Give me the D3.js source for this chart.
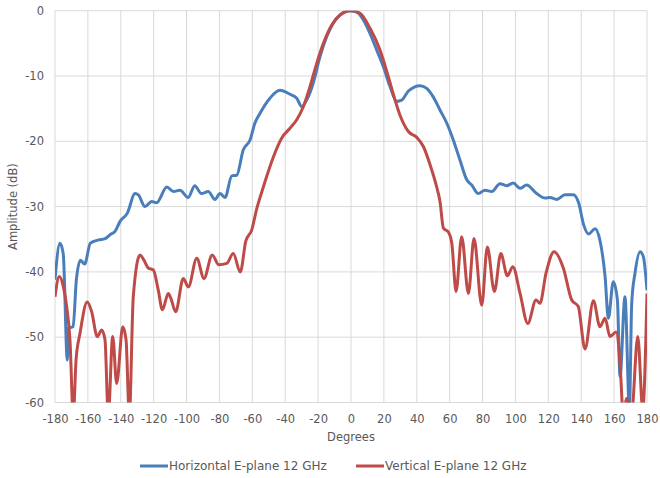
<!DOCTYPE html>
<html>
<head>
<meta charset="utf-8">
<script src="https://cdn.jsdelivr.net/npm/d3@7"></script>
<style>
  body { margin: 0; background: #fff; }
  text { font-family: "DejaVu Sans", sans-serif; fill: #595959; }
</style>
</head>
<body>
<svg width="660" height="478"></svg>
<script>
// series: Horizontal E-plane 12 GHz
var hDeg = [-180, -177, -175, -172.5, -172, -169, -167, -164.5, -162, -158.5, -153.5, -149.5, -146.5, -143.5,
  -140.5, -136, -131.3, -129.3, -125.3, -121.2, -118.2, -112, -108, -104, -99, -95, -91, -86.8, -82.7, -79.7,
  -76.6, -72.5, -69.5, -65.5, -61.4, -58.4, -55.3, -49.3, -43.2, -37.1, -33, -30, -27, -23, -18.8, -14.8,
  -10.8, -6.7, -1, 3.5, 7.5, 11.6, 15.6, 19.7, 23.7, 27.8, 30.8, 34.9, 38.5, 41.9, 46, 50, 54.1, 58.2, 62.2,
  66.3, 70.4, 73.4, 77.4, 81.5, 85.6, 90.6, 94.7, 98.7, 102.8, 106.8, 112.9, 118, 121, 125.1, 130.1, 135.2,
  138.5, 141.5, 144.5, 148.4, 151.4, 154.5, 156.5, 159.5, 162, 163.6, 166.6, 169.3, 170.7, 172.7, 175.8, 177.8, 180];
var hAmp = [-41.2, -35.6, -37.2, -53.5, -48.6, -48.4, -41.2, -38.2, -38.8, -35.6, -35.1, -34.9, -34.3, -33.8,
  -32.3, -31.0, -28.0, -28.2, -30.0, -29.2, -29.4, -27.0, -27.7, -27.5, -28.6, -26.8, -28.0, -27.7, -28.9, -28.0,
  -28.6, -25.3, -25.2, -21.3, -19.8, -17.2, -15.7, -13.4, -12.2, -12.8, -13.4, -14.7, -13.7, -11.1, -7.0, -4.0,
  -1.9, -0.66, 0, -0.2, -1.4, -3.5, -6.0, -8.6, -11.6, -13.9, -13.7, -12.3, -11.7, -11.5, -11.9, -13.2, -15.2, -17.2, -19.8,
  -22.9, -25.9, -26.7, -28.0, -27.5, -27.7, -26.5, -26.8, -26.4, -27.2, -26.7, -28.0, -28.7, -28.6, -28.9, -28.2, -28.2,
  -29.5, -32.8, -34.2, -33.4, -35.2, -40.7, -47.1, -41.5, -44.3, -56.0, -43.8, -61, -44.8, -40.2, -36.9, -37.7, -42.8];

// series: Vertical E-plane 12 GHz
var vDeg = [-180, -177.4, -174.9, -172.9, -170.9, -168.9, -167.2, -164.8, -160.4, -157.7, -154.3, -151.6, -149.6,
  -147.6, -144.9, -142.5, -138.8, -136.8, -134.8, -132.4, -128.3, -125.9, -123.3, -120.2, -117.2, -114.7, -111.1,
  -109.6, -106.6, -102, -98.9, -93.8, -89.4, -84.4, -80.4, -75.6, -71.6, -67.3, -64, -60.4, -57.3, -53.3, -51.3,
  -47.2, -42.1, -37.1, -33, -29, -24.9, -20.9, -16.8, -11.7, -6.7, 0, 5.5, 11.6, 17.6, 22.7, 26.8, 29.8, 34.9,
  40, 44, 48.1, 52.1, 54.1, 56.2, 59.2, 61.3, 63.9, 67.3, 71.4, 74.8, 79.5, 82.9, 87.2, 91.1, 95.1, 98.4, 102.8,
  107.5, 112.5, 114.9, 118.6, 123.5, 129.1, 134.2, 138.2, 142.3, 147.4, 151.4, 154.5, 157.5, 161.2, 163.6, 165.6,
  167.5, 169.3, 170.5, 174.4, 177.4, 180];
var vAmp = [-43.8, -40.7, -42.3, -45.3, -50.4, -62, -53.5, -49.4, -44.6, -46.1, -49.9, -48.9, -50.4,
  -62, -49.9, -57.1, -48.4, -50.4, -62, -43.8, -37.4, -38.2, -39.4, -39.7, -42.8, -45.8, -43.3,
  -44.0, -46.1, -41.0, -42.3, -37.9, -41.0, -37.4, -38.9, -38.7, -37.2, -40.0, -35.3, -33.6, -30.3, -27.0, -25.4,
  -22.4, -19.5, -18.0, -16.7, -14.7, -11.6, -8.1, -5.0, -2.2, -0.66, 0, -0.4, -2.7, -6.0, -10.1, -13.7, -16.0, -18.5,
  -19.4, -20.8, -23.6, -27.0, -29.2, -33.3, -33.9, -35.6, -43.0, -34.6, -43.3, -34.9, -45.1, -36.2, -43.0, -37.2, -40.6, -39.2, -43.3,
  -47.9, -44.3, -44.8, -40.2, -36.9, -39.4, -44.3, -45.3, -51.8, -44.4, -48.4, -47.1, -49.9, -49.2, -54, -62,
  -59.4, -60.5, -62, -49.9, -61, -43.3];

var xTicks = [-180, -160, -140, -120, -100, -80, -60, -40, -20, 0, 20, 40, 60, 80, 100, 120, 140, 160, 180];
var yTicks = [0, -10, -20, -30, -40, -50, -60];
var seriesNames = ["Horizontal E-plane 12 GHz", "Vertical E-plane 12 GHz"];
var seriesColors = ["#4a7ebb", "#be4b48"];

var svg = d3.select("svg"),
    margin = {top: 10.7, right: 13, bottom: 75.5, left: 55},
    width = 660 - margin.left - margin.right,
    height = 478 - margin.top - margin.bottom;

var g = svg.append("g").attr("transform", "translate(" + margin.left + "," + margin.top + ")");

var x = d3.scaleLinear().domain([-180, 180]).range([0, width]);
var y = d3.scaleLinear().domain([-60, 0]).range([height, 0]);

// plain hyphen like the original, not the unicode minus
var fmt = function (d) { return String(d); };

// grid
g.append("g")
    .selectAll("line.v")
    .data(xTicks)
    .enter().append("line")
    .attr("x1", function (d) { return x(d); })
    .attr("x2", function (d) { return x(d); })
    .attr("y1", 0).attr("y2", height)
    .attr("stroke", "#d9d9d9");
g.append("g")
    .selectAll("line.h")
    .data(yTicks)
    .enter().append("line")
    .attr("x1", 0).attr("x2", width)
    .attr("y1", function (d) { return y(d); })
    .attr("y2", function (d) { return y(d); })
    .attr("stroke", "#d9d9d9");

// axes (labels only)
var xAxis = g.append("g")
    .attr("transform", "translate(0," + height + ")")
    .call(d3.axisBottom(x).tickValues(xTicks).tickFormat(fmt).tickSize(0).tickPadding(12));
var yAxis = g.append("g")
    .call(d3.axisLeft(y).tickValues(yTicks).tickFormat(fmt).tickSize(0).tickPadding(11));
[xAxis, yAxis].forEach(function (a) {
    a.select(".domain").remove();
    a.selectAll("text").style("font-size", "11.5px").style("font-family", "DejaVu Sans").attr("fill", "#595959");
});

g.append("clipPath").attr("id", "clip")
    .append("rect").attr("width", width).attr("height", height);

var line = d3.line()
    .x(function (d) { return x(d[0]); })
    .y(function (d) { return y(d[1]); })
    .curve(d3.curveMonotoneX);

var series = [d3.zip(hDeg, hAmp), d3.zip(vDeg, vAmp)];
g.append("g").attr("clip-path", "url(#clip)")
    .selectAll("path")
    .data(series)
    .enter().append("path")
    .attr("fill", "none")
    .attr("stroke", function (d, i) { return seriesColors[i]; })
    .attr("stroke-width", 3)
    .attr("stroke-linejoin", "round")
    .attr("d", line);

// axis titles
svg.append("text")
    .attr("x", margin.left + width / 2).attr("y", 441)
    .attr("text-anchor", "middle")
    .style("font-size", "11.5px")
    .text("Degrees");
svg.append("text")
    .attr("transform", "translate(17," + (margin.top + height / 2) + ") rotate(-90)")
    .attr("text-anchor", "middle")
    .style("font-size", "11.5px")
    .text("Amplitude (dB)");

// legend
var legendX = [140, 356];
var lg = svg.append("g").selectAll("g")
    .data(seriesNames)
    .enter().append("g")
    .attr("transform", function (d, i) { return "translate(" + legendX[i] + ",466)"; });
lg.append("line")
    .attr("x1", 0).attr("x2", 28)
    .attr("stroke", function (d, i) { return seriesColors[i]; })
    .attr("stroke-width", 3);
lg.append("text")
    .attr("x", 29).attr("dy", "0.35em")
    .style("font-size", "12px")
    .text(function (d) { return d; });
</script>
</body>
</html>
